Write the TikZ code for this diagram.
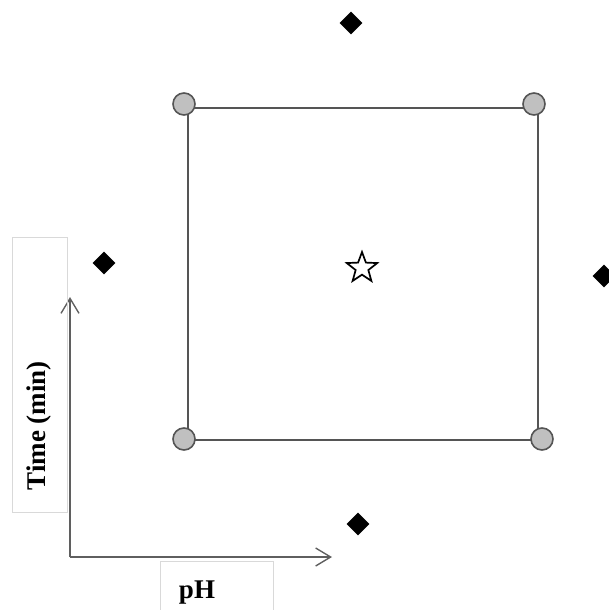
\documentclass[tikz,border=0pt]{standalone}
\usepackage{fontspec}
\setmainfont{Liberation Serif}
\usepackage{tikz}
\usetikzlibrary{arrows,arrows.meta,shapes,positioning}
\definecolor{dfgrey}{RGB}{85,85,85}
\definecolor{dfaxis}{RGB}{95,95,95}
\definecolor{dflightgrey}{RGB}{192,192,192}
\definecolor{dfboxgrey}{RGB}{217,217,217}
\tikzstyle{edge} = [line width=1.8pt, color=dfgrey]
\tikzstyle{axis} = [line width=1.4pt, color=dfaxis, -{Straight Barb[length=15pt,width=18pt]}]
\tikzstyle{cornerpt} = [circle, draw=dfgrey, fill=dflightgrey, line width=1.6pt, minimum size=22pt, inner sep=0pt]
\tikzstyle{axialpt} = [diamond, fill=black, minimum width=23pt, minimum height=23pt, inner sep=0pt]
\tikzstyle{centerpt} = [star, star points=5, star point ratio=2.4, draw=black, fill=white, line width=1.7pt, minimum size=32pt, inner sep=0pt]
\tikzstyle{labelbox} = [rectangle, draw=dfboxgrey, line width=1pt, inner sep=0pt]
\tikzstyle{axislabel} = [font=\fontsize{27}{30}\selectfont\bfseries, inner sep=0pt]

\begin{document}
\begin{tikzpicture}[x=1pt, y=-1pt]
\useasboundingbox (0,0) rectangle (609,610);
% design square
\coordinate (sqtl) at (188,108);
\coordinate (sqtr) at (538,108);
\coordinate (sqbr) at (538,440);
\coordinate (sqbl) at (188,440);
\draw[edge] (sqtl) -- (sqtr) -- (sqbr) -- (sqbl) -- cycle;
\node[cornerpt] (ctl) at (184,104) {};
\node[cornerpt] (ctr) at (534,104) {};
\node[cornerpt] (cbl) at (184,439) {};
\node[cornerpt] (cbr) at (542,439) {};
\node[centerpt] (mid) at (362,268) {};
% axial points
\node[axialpt] (atop) at (351,23) {};
\node[axialpt] (aleft) at (104,263) {};
\node[axialpt] (aright) at (604,276) {};
\node[axialpt] (abottom) at (358,524) {};
% axes
\coordinate (origin) at (70,557);
\coordinate (timeend) at (70,297);
\coordinate (phend) at (332,557);
\draw[axis] (origin) -- (timeend);
\draw[axis] (origin) -- (phend);
\node[labelbox, minimum width=55pt, minimum height=275pt] (timebox) at (39.5,374.5) {};
\node[labelbox, minimum width=113pt, minimum height=80pt] (phbox) at (216.5,601) {};
\node[axislabel, rotate=90, anchor=west] (timelabel) at ([yshift=22pt]timebox.south) {Time (min)};
\node[axislabel] (phlabel) at (197,593) {pH};
\end{tikzpicture}
\end{document}
